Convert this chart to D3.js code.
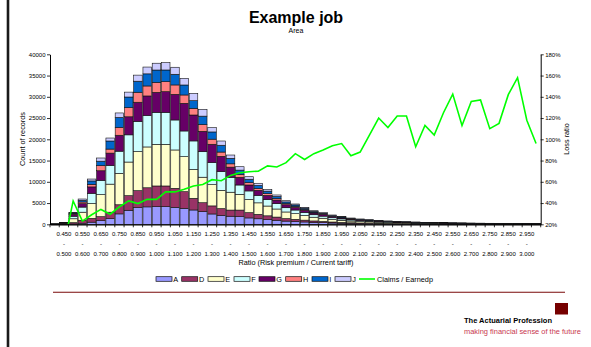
<!DOCTYPE html>
<html>
<head>
<meta charset="utf-8">
<script src="https://cdn.jsdelivr.net/npm/d3@7"></script>
<style>
  body { margin: 0; background: #fff; }
  svg { display: block; }
  text { font-family: "Liberation Sans", Arial, sans-serif; fill: #000; }
</style>
</head>
<body>
<svg id="chart" width="591" height="347"></svg>
<script>
// Ratio bins (risk premium / current tariff)
const categories = [
  "0.400 - 0.450","0.450 - 0.500","0.500 - 0.550","0.550 - 0.600","0.600 - 0.650",
  "0.650 - 0.700","0.700 - 0.750","0.750 - 0.800","0.800 - 0.850","0.850 - 0.900",
  "0.900 - 0.950","0.950 - 1.000","1.000 - 1.050","1.050 - 1.100","1.100 - 1.150",
  "1.150 - 1.200","1.200 - 1.250","1.250 - 1.300","1.300 - 1.350","1.350 - 1.400",
  "1.400 - 1.450","1.450 - 1.500","1.500 - 1.550","1.550 - 1.600","1.600 - 1.650",
  "1.650 - 1.700","1.700 - 1.750","1.750 - 1.800","1.800 - 1.850","1.850 - 1.900",
  "1.900 - 1.950","1.950 - 2.000","2.000 - 2.050","2.050 - 2.100","2.100 - 2.150",
  "2.150 - 2.200","2.200 - 2.250","2.250 - 2.300","2.300 - 2.350","2.350 - 2.400",
  "2.400 - 2.450","2.450 - 2.500","2.500 - 2.550","2.550 - 2.600","2.600 - 2.650",
  "2.650 - 2.700","2.700 - 2.750","2.750 - 2.800","2.800 - 2.850","2.850 - 2.900",
  "2.900 - 2.950","2.950 - 3.000","3.000 - 3.050"
];

// Count of records per area, one value per bin
const seriesA = [5,20,100,250,500,860,1350,2450,3300,3920,4100,4160,4160,4000,3760,3370,2980,2430,2100,1900,1800,1500,1300,1100,950,750,650,550,440,380,300,250,200,170,150,130,110,95,85,75,65,58,52,47,43,39,36,33,30,28,26,25,24];
const seriesD = [10,40,300,700,900,940,1500,2150,3450,4000,4500,4860,4860,4470,3920,2750,2100,1900,1600,1450,1550,1250,1050,900,750,600,520,430,350,300,240,200,160,140,120,100,85,75,65,58,52,46,42,37,34,31,29,26,24,22,21,20,19];
const seriesE = [25,120,900,1900,3500,5200,6600,7400,7900,9200,9600,9800,9800,9020,8240,6800,6000,5000,4300,4200,3700,3100,2700,2300,1900,1550,1330,1100,880,750,600,490,410,340,300,260,215,185,165,145,130,115,105,94,85,77,71,66,61,55,52,50,47];
const seriesF = [15,80,600,1200,2400,3350,4400,5200,6400,7100,7400,7530,7530,7060,6040,6700,6000,5200,4400,3500,2200,2000,1750,1500,1250,1000,860,720,580,490,400,330,270,230,195,170,140,125,110,97,85,77,70,62,57,51,48,44,40,36,35,33,31];
const seriesG = [10,60,400,800,1500,2250,2900,3750,4250,4500,4600,4700,4860,6040,6510,6100,4800,4300,3600,2400,1800,1400,1200,1000,850,700,600,500,400,340,270,220,180,155,135,115,95,85,75,65,58,52,47,42,38,34,32,30,27,25,23,22,21];
const seriesH = [5,20,150,400,600,1200,950,1850,2150,2350,2350,2350,2350,2200,1960,1570,1570,1200,1000,780,650,550,450,400,350,270,240,200,160,140,110,90,75,65,55,50,40,35,30,27,24,21,19,17,16,14,13,12,11,10,10,9,8];
const seriesI = [5,25,200,400,800,1050,1900,2350,2500,2600,2850,2900,2750,2510,2350,1800,2000,1700,1600,1300,1050,800,700,600,500,400,340,290,230,190,160,130,110,90,75,65,55,45,40,36,32,29,26,23,21,19,17,16,15,13,13,12,11];
const seriesJ = [5,15,150,300,450,750,700,1050,1150,1430,1600,1600,1730,1650,1570,1730,1600,1020,1000,770,800,600,500,400,350,280,240,210,160,140,110,90,75,60,50,50,40,35,30,27,24,22,19,18,16,15,14,13,12,11,10,9,9];

// Claims / earned premium, percent, one value per bin
const lossRatio = [0,0,42,23,29,34,29.5,36.5,42,39.5,43.5,43.5,50.5,50.5,53,56,57.5,62,61,66,68.5,69.5,70,75,74,78,86.5,81,86.5,90,94,96,84.5,88,104,120,111,122,122,93,113,104,125,142.5,113,135.5,137,110,115,142,158,118,96];

const seriesNames = ["A","D","E","F","G","H","I","J"];
const seriesColors = ["#9999FF","#993366","#FFFFCC","#CCFFFF","#660066","#FF8080","#0066CC","#CCCCFF"];
const countTicks = [0,5000,10000,15000,20000,25000,30000,35000,40000];
const ratioTicks = [20,40,60,80,100,120,140,160,180];

const svg = d3.select("#chart");
const plot = { left: 50, right: 540.7, top: 54.3, bottom: 224.3 };

const seriesValues = [seriesA, seriesD, seriesE, seriesF, seriesG, seriesH, seriesI, seriesJ];
const table = categories.map((c, i) => {
  const row = { cat: c };
  seriesNames.forEach((s, j) => { row[s] = seriesValues[j][i]; });
  return row;
});

const x = d3.scaleBand().domain(categories).range([plot.left, plot.right]).paddingInner(0.08).paddingOuter(0.04);
const yCount = d3.scaleLinear().domain([0, 40000]).range([plot.bottom, plot.top]);
const yRatio = d3.scaleLinear().domain([20, 180]).range([plot.bottom, plot.top]);

// page frame line on the left
svg.append("line").attr("x1", 8).attr("x2", 8).attr("y1", 0).attr("y2", 347)
  .attr("stroke", "#1a1a1a").attr("stroke-width", 2.6);

// titles
svg.append("text").attr("x", 296).attr("y", 22.5).attr("text-anchor", "middle")
  .style("font-size", "16px").style("font-weight", "bold").text("Example job");
svg.append("text").attr("x", 296).attr("y", 33).attr("text-anchor", "middle")
  .style("font-size", "7px").text("Area");

// stacked bars
const stacked = d3.stack().keys(seriesNames)(table);
const layers = svg.append("g").selectAll("g").data(stacked).join("g")
  .attr("fill", (d, i) => seriesColors[i]);
layers.selectAll("rect").data(d => d).join("rect")
  .attr("x", d => x(d.data.cat))
  .attr("width", x.bandwidth())
  .attr("y", d => yCount(d[1]))
  .attr("height", d => Math.max(0, yCount(d[0]) - yCount(d[1])))
  .attr("stroke", "#111").attr("stroke-width", 0.6);

// loss ratio line, clipped to the plot area
svg.append("clipPath").attr("id", "plotClip").append("rect")
  .attr("x", plot.left).attr("y", plot.top)
  .attr("width", plot.right - plot.left).attr("height", plot.bottom - plot.top);
const line = d3.line()
  .x((d, i) => x(categories[i]) + x.bandwidth() / 2)
  .y(d => yRatio(d));
svg.append("path").datum(lossRatio)
  .attr("clip-path", "url(#plotClip)")
  .attr("d", line).attr("fill", "none")
  .attr("stroke", "#00FF00").attr("stroke-width", 1.6).attr("stroke-linejoin", "miter");

// left axis
const leftAxis = svg.append("g").attr("transform", `translate(${plot.left},0)`)
  .call(d3.axisLeft(yCount).tickValues(countTicks).tickSize(3).tickSizeOuter(0).tickPadding(1.5).tickFormat(d3.format("d")));
// right axis
const rightAxis = svg.append("g").attr("transform", `translate(${plot.right},0)`)
  .call(d3.axisRight(yRatio).tickValues(ratioTicks).tickSize(3).tickSizeOuter(0).tickPadding(1.5).tickFormat(d => d + "%"));
[leftAxis, rightAxis].forEach(g => {
  g.select(".domain").attr("stroke", "#000").attr("stroke-width", 1);
  g.selectAll(".tick line").attr("stroke", "#000").attr("stroke-width", 0.8);
  g.selectAll(".tick text").style("font-size", "6px").attr("fill", "#000")
    .style("font-family", "'Liberation Sans', Arial, sans-serif");
});

// category axis
const xAxis = svg.append("g").attr("transform", `translate(0,${plot.bottom})`)
  .call(d3.axisBottom(x).tickSize(0).tickSizeOuter(0).tickFormat(""));
xAxis.select(".domain").attr("stroke", "#000").attr("stroke-width", 1.2);
const step = x.step();
const boundaries = categories.map(c => x(c) - x.paddingInner() * step / 2).concat([plot.right]);
svg.append("g").selectAll("line").data(boundaries).join("line")
  .attr("x1", d => d).attr("x2", d => d)
  .attr("y1", plot.bottom).attr("y2", plot.bottom + 3)
  .attr("stroke", "#000").attr("stroke-width", 0.8);

const labelled = categories.filter((c, i) => i % 2 === 1);
const xl = svg.append("g").selectAll("text").data(labelled).join("text")
  .attr("text-anchor", "middle").style("font-size", "6px");
xl.each(function (c) {
  const parts = c.split(" - ");
  const cx = x(c) + x.bandwidth() / 2;
  const t = d3.select(this);
  t.append("tspan").attr("x", cx).attr("y", 236).text(parts[0]);
  t.append("tspan").attr("x", cx).attr("y", 245.5).text("-");
  t.append("tspan").attr("x", cx).attr("y", 255.5).text(parts[1]);
});

// axis titles
svg.append("text").attr("x", 296).attr("y", 265).attr("text-anchor", "middle")
  .style("font-size", "7.3px").text("Ratio (Risk premium / Current tariff)");
svg.append("text").attr("transform", "translate(24.5,139) rotate(-90)").attr("text-anchor", "middle")
  .style("font-size", "7.3px").text("Count of records");
svg.append("text").attr("transform", "translate(569,139) rotate(-90)").attr("text-anchor", "middle")
  .style("font-size", "7.3px").text("Loss ratio");

// legend
const legendItems = seriesNames.map((s, i) => ({ name: s, color: seriesColors[i], type: "bar" }))
  .concat([{ name: "Claims / Earnedp", color: "#00FF00", type: "line" }]);
const legendX = [156, 181.7, 208, 234, 259, 285.7, 312, 335, 359];
const lg = svg.append("g").selectAll("g").data(legendItems).join("g")
  .attr("transform", (d, i) => `translate(${legendX[i]},279)`);
lg.filter(d => d.type === "bar").append("rect")
  .attr("x", 0).attr("y", -2.3).attr("width", 16).attr("height", 4.6)
  .attr("fill", d => d.color).attr("stroke", "#111").attr("stroke-width", 0.7);
lg.filter(d => d.type === "line").append("line")
  .attr("x1", 0).attr("x2", 16).attr("y1", 0).attr("y2", 0)
  .attr("stroke", d => d.color).attr("stroke-width", 1.6);
lg.append("text").attr("x", d => d.type === "line" ? 18 : 17.3).attr("y", 2.6)
  .style("font-size", "7.3px").text(d => d.name);

// footer rule and logo
svg.append("line").attr("x1", 53).attr("x2", 565).attr("y1", 292.3).attr("y2", 292.3)
  .attr("stroke", "#7a0a0a").attr("stroke-width", 1.1);
svg.append("rect").attr("x", 555).attr("y", 303).attr("width", 13).attr("height", 11.5).attr("fill", "#760000");
svg.append("text").attr("x", 464).attr("y", 323).style("font-size", "7px").style("font-weight", "bold")
  .attr("textLength", 88).attr("lengthAdjust", "spacingAndGlyphs").text("The Actuarial Profession");
svg.append("text").attr("x", 464).attr("y", 333.5).style("font-size", "6.5px").style("fill", "#c8384f")
  .attr("textLength", 117).attr("lengthAdjust", "spacingAndGlyphs").text("making financial sense of the future");
</script>
</body>
</html>
